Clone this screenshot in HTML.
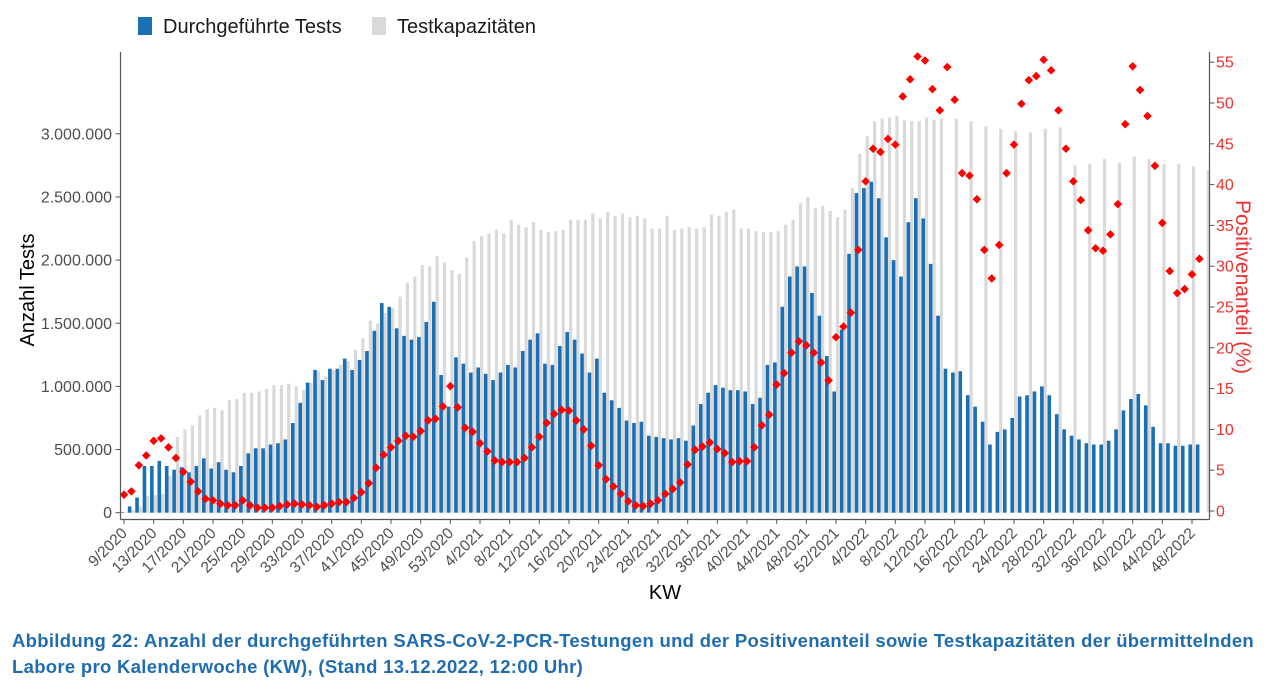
<!DOCTYPE html>
<html><head><meta charset="utf-8"><style>
html,body{margin:0;padding:0;background:#fff;width:1283px;height:696px;overflow:hidden}
svg{display:block}
.cap{position:absolute;left:12px;top:628px;font-family:"Liberation Sans",sans-serif;font-weight:bold;font-size:18.5px;letter-spacing:0.3px;line-height:26px;color:#1f6cb0;white-space:nowrap}
</style></head><body>
<svg id="chart" width="1283" height="620" xmlns="http://www.w3.org/2000/svg" font-family="Liberation Sans, sans-serif">
<g>
<rect x="138" y="17" width="14" height="18" fill="#1a6fb5"/>
<text x="163" y="33" font-size="20" fill="#1a1a1a">Durchgeführte Tests</text>
<rect x="372" y="17" width="14" height="18" fill="#d9d9d9"/>
<text x="397" y="33" font-size="20" fill="#1a1a1a">Testkapazitäten</text>
</g>
<g id="bars"></g><g id="pts"></g><g id="axes"></g>
<text transform="translate(34,290) rotate(-90)" text-anchor="middle" font-size="20" fill="#000">Anzahl Tests</text>
<text transform="translate(1236,287) rotate(90)" text-anchor="middle" font-size="21" fill="#f03030">Positivenanteil (%)</text>
<text x="665" y="599" text-anchor="middle" font-size="20" fill="#000">KW</text>
</svg>
<div class="cap">Abbildung 22: Anzahl der durchgeführten SARS-CoV-2-PCR-Testungen und der Positivenanteil sowie Testkapazitäten der übermittelnden<br>Labore pro Kalenderwoche (KW), (Stand 13.12.2022, 12:00 Uhr)</div>
<script>
const tests=[0.005,0.05,0.12,0.37,0.37,0.41,0.37,0.34,0.36,0.32,
0.37,0.43,0.35,0.40,0.34,0.32,0.37,0.47,0.51,0.51,
0.54,0.55,0.58,0.71,0.87,1.03,1.13,1.05,1.14,1.14,
1.22,1.13,1.21,1.28,1.44,1.66,1.63,1.46,1.40,1.37,
1.39,1.51,1.67,1.09,0.84,1.23,1.18,1.11,1.15,1.10,
1.05,1.11,1.17,1.15,1.28,1.37,1.42,1.18,1.17,1.32,
1.43,1.37,1.26,1.11,1.22,0.95,0.89,0.83,0.73,0.71,
0.72,0.61,0.60,0.59,0.58,0.59,0.57,0.69,0.86,0.95,
1.01,0.99,0.97,0.97,0.96,0.86,0.91,1.17,1.19,1.63,
1.87,1.95,1.95,1.74,1.56,1.24,0.96,1.45,2.05,2.53,
2.57,2.62,2.49,2.18,2.00,1.87,2.30,2.49,2.33,1.97,
1.56,1.14,1.11,1.12,0.93,0.84,0.72,0.54,0.64,0.66,
0.75,0.92,0.93,0.96,1.00,0.93,0.78,0.66,0.61,0.58,
0.55,0.54,0.54,0.57,0.66,0.81,0.90,0.94,0.85,0.68,
0.55,0.55,0.53,0.53,0.54,0.54,null];
const capacity=[0.005,0.02,0.05,0.13,0.14,0.15,0.29,0.60,0.66,0.69,
0.77,0.82,0.83,0.81,0.89,0.90,0.95,0.95,0.96,0.98,
1.01,1.01,1.02,1.00,0.97,1.03,1.12,1.08,1.13,1.17,
1.20,1.29,1.38,1.52,1.50,1.58,1.62,1.71,1.82,1.87,
1.96,1.95,2.03,1.98,1.92,1.89,2.02,2.15,2.19,2.21,
2.24,2.21,2.32,2.28,2.26,2.30,2.24,2.22,2.23,2.24,
2.32,2.32,2.32,2.37,2.33,2.38,2.35,2.37,2.34,2.35,
2.33,2.25,2.25,2.35,2.24,2.25,2.26,2.25,2.26,2.36,
2.35,2.38,2.40,2.25,2.25,2.23,2.22,2.22,2.23,2.28,
2.32,2.45,2.50,2.41,2.43,2.39,2.34,2.40,2.57,2.84,
2.98,3.10,3.12,3.13,3.14,3.11,3.10,3.10,3.13,3.11,
3.12,null,3.12,null,3.10,null,3.06,null,3.04,null,
3.02,null,3.01,null,3.04,null,3.05,null,2.75,null,
2.76,null,2.80,null,2.77,null,2.82,null,2.80,null,
2.76,null,2.76,null,2.74,null,2.71];
const positivity=[2.0,2.4,5.6,6.8,8.6,8.9,7.8,6.5,4.8,3.6,
2.4,1.5,1.3,0.9,0.7,0.7,1.3,0.7,0.4,0.4,
0.4,0.6,0.8,0.9,0.8,0.7,0.5,0.7,0.9,1.1,
1.1,1.6,2.3,3.4,5.3,6.9,7.8,8.6,9.2,9.1,
9.8,11.1,11.3,12.8,15.3,12.7,10.2,9.7,8.3,7.3,
6.2,6.0,6.0,6.0,6.5,7.8,9.1,10.8,11.9,12.4,
12.3,11.1,10.0,8.0,5.6,3.9,3.0,2.1,1.2,0.7,
0.6,0.9,1.3,2.1,2.7,3.5,5.7,7.5,7.9,8.4,
7.6,7.1,6.0,6.1,6.1,7.8,10.5,11.8,15.5,16.9,
19.4,20.8,20.3,19.4,18.2,16.0,21.3,22.6,24.3,32.0,
40.4,44.4,44.0,45.6,44.9,50.8,52.9,55.7,55.2,51.7,
49.1,54.4,50.4,41.4,41.1,38.2,32.0,28.5,32.6,41.4,
44.9,49.9,52.8,53.3,55.3,54.0,49.1,44.4,40.4,38.1,
34.4,32.2,31.9,33.9,37.6,47.4,54.5,51.6,48.4,42.3,
35.3,29.4,26.7,27.2,29.0,30.9,null];
const xTickLabels=["9/2020","13/2020","17/2020","21/2020","25/2020","29/2020","33/2020","37/2020","41/2020","45/2020","49/2020","53/2020","4/2021","8/2021","12/2021","16/2021","20/2021","24/2021","28/2021","32/2021","36/2021","40/2021","44/2021","48/2021","52/2021","4/2022","8/2022","12/2022","16/2022","20/2022","24/2022","28/2022","32/2022","36/2022","40/2022","44/2022","48/2022"];
const yLeftTicks=[0,0.5,1,1.5,2,2.5,3];
const yLeftLabels=["0","500.000","1.000.000","1.500.000","2.000.000","2.500.000","3.000.000"];
const yRightTicks=[0,5,10,15,20,25,30,35,40,45,50,55];

const NS="http://www.w3.org/2000/svg";
function xS(i){return 124+i*(1192-124)/144;}
function yL(v){return 512.7-v*126.3;}
function yR(p){return 511-p*8.16;}
function mk(tag,parent,attrs){const e=document.createElementNS(NS,tag);for(const k in attrs)e.setAttribute(k,attrs[k]);parent.appendChild(e);return e;}
const bars=document.getElementById('bars'),pts=document.getElementById('pts'),axes=document.getElementById('axes');
capacity.forEach((v,i)=>{if(v==null)return;const c=xS(i);
 const r=mk('rect',bars,{x:c,y:yL(v),width:3.2,height:yL(0)-yL(v),fill:'#d9d9d9'});
 
 });
tests.forEach((v,i)=>{if(v==null)return;const c=xS(i);
 const r=mk('rect',bars,{x:c-3.6,y:yL(v),width:3.6,height:yL(0)-yL(v),fill:'#1a6fb5'});
 
 });
positivity.forEach((p,i)=>{if(p==null)return;const c=xS(i),y=yR(p);
 const d=mk('polygon',pts,{points:`${c},${y-4.3} ${c+4.3},${y} ${c},${y+4.3} ${c-4.3},${y}`,fill:'#ff0000'});
 
 });
let a=mk('line',axes,{x1:120.5,y1:52,x2:120.5,y2:519.5,stroke:'#555','stroke-width':1.2});


a=mk('line',axes,{x1:1209.5,y1:52,x2:1209.5,y2:519.5,stroke:'#555','stroke-width':1.2});


a=mk('line',axes,{x1:120.5,y1:519.5,x2:1209.5,y2:519.5,stroke:'#555','stroke-width':1.2});


yLeftTicks.forEach((v,k)=>{const y=yL(v);
 mk('line',axes,{x1:115.5,y1:y,x2:120.5,y2:y,stroke:'#555'});
 const t=mk('text',axes,{x:112,y:y+5.5,'text-anchor':'end','font-size':16,fill:'#4d4d4d'});t.textContent=yLeftLabels[k];
 
 });
yRightTicks.forEach(p=>{const y=yR(p);
 mk('line',axes,{x1:1209.5,y1:y,x2:1214.5,y2:y,stroke:'#555'});
 const t=mk('text',axes,{x:1216,y:y+5.5,'font-size':16,fill:'#f03030'});t.textContent=String(p);
 
 });
xTickLabels.forEach((l,k)=>{const x=xS(k*4);
 mk('line',axes,{x1:x,y1:519.5,x2:x,y2:524,stroke:'#555'});
 const t=mk('text',axes,{x:0,y:0,'text-anchor':'end','font-size':15.5,fill:'#4d4d4d',transform:`translate(${x+4},${534}) rotate(-45)`});t.textContent=l;
 
 });
</script>
</body></html>
